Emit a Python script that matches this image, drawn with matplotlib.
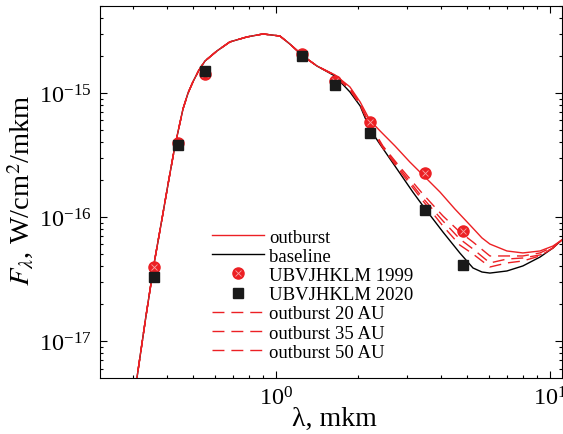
import matplotlib
matplotlib.use("Agg")
import matplotlib.pyplot as plt
from matplotlib.ticker import LogLocator, NullFormatter

plt.rcParams['font.family'] = ['Liberation Serif', 'DejaVu Serif']
plt.rcParams['mathtext.fontset'] = 'stix'

RED = '#ec2024'

# Photometry (wavelength in mkm, flux in W/cm^2/mkm)
bands = ['U', 'B', 'V', 'J', 'H', 'K', 'L', 'M']
band_wl = [0.36, 0.44, 0.55, 1.25, 1.65, 2.2, 3.5, 4.8]
flux_1999 = [3.95e-17, 3.95e-16, 1.42e-15, 2.07e-15, 1.25e-15, 5.83e-16, 2.26e-16, 7.7e-17]
flux_2020 = [3.28e-17, 3.80e-16, 1.51e-15, 2.00e-15, 1.16e-15, 4.75e-16, 1.14e-16, 4.1e-17]

# Model SEDs: common stellar part shortward of 1.6 mkm
wl_common = [0.30, 0.311, 0.335, 0.359, 0.385, 0.407, 0.428, 0.458, 0.478, 0.498,
             0.523, 0.551, 0.609, 0.679, 0.784, 0.897, 1.034, 1.125, 1.255, 1.412]
f_common = [2.88e-18, 5.03e-18, 1.55e-17, 4.18e-17, 1.00e-16, 2.02e-16, 3.74e-16,
            7.43e-16, 1.00e-15, 1.23e-15, 1.52e-15, 1.81e-15, 2.18e-15, 2.58e-15,
            2.83e-15, 2.99e-15, 2.88e-15, 2.48e-15, 1.99e-15, 1.65e-15]

wl_base = [1.642, 1.862, 2.03, 2.20, 2.40, 2.61, 3.16, 3.44, 4.07, 4.69, 5.24,
           5.65, 6.04, 6.97, 7.97, 9.20, 10.26, 11.06]
f_base = [1.37e-15, 1.02e-15, 7.86e-16, 5.13e-16, 3.85e-16, 2.94e-16, 1.59e-16,
          1.23e-16, 7.57e-17, 5.13e-17, 3.88e-17, 3.60e-17, 3.53e-17, 3.67e-17,
          4.03e-17, 4.75e-17, 5.62e-17, 6.53e-17]

wl_out = [1.642, 1.862, 2.03, 2.20, 2.40, 2.72, 3.08, 3.50, 3.97, 4.50, 5.11,
          5.65, 6.04, 6.97, 7.97, 9.20, 10.26, 11.06]
f_out = [1.40e-15, 1.12e-15, 8.46e-16, 6.05e-16, 4.94e-16, 3.74e-16, 2.78e-16,
         2.10e-16, 1.59e-16, 1.16e-16, 8.61e-17, 6.78e-17, 6.05e-17, 5.32e-17,
         5.13e-17, 5.32e-17, 5.83e-17, 6.53e-17]

wl_dust = [1.642, 1.862, 2.03, 2.20, 2.457, 2.835, 3.44, 4.07, 4.69, 5.24, 6.04,
           6.97, 7.97, 9.20, 10.26, 11.06]
f_20au = [1.39e-15, 1.10e-15, 8.15e-16, 5.62e-16, 3.74e-16, 2.53e-16, 1.53e-16,
          1.02e-16, 7.57e-17, 6.28e-17, 4.85e-17, 4.85e-17, 4.85e-17, 5.13e-17,
          5.73e-17, 6.53e-17]
f_35au = [1.39e-15, 1.08e-15, 8.15e-16, 5.52e-16, 3.67e-16, 2.44e-16, 1.42e-16,
          9.29e-17, 6.65e-17, 5.52e-17, 4.26e-17, 4.58e-17, 4.67e-17, 4.94e-17,
          5.62e-17, 6.53e-17]
f_50au = [1.38e-15, 1.06e-15, 8.00e-16, 5.42e-16, 3.60e-16, 2.35e-16, 1.35e-16,
          8.46e-17, 5.94e-17, 5.03e-17, 3.95e-17, 4.26e-17, 4.42e-17, 4.85e-17,
          5.62e-17, 6.53e-17]

fig = plt.figure(figsize=(5.63, 4.35), dpi=100)
ax = fig.add_axes([0.1776, 0.1287, 0.8204, 0.8553])

lw = 1.0
dash = (8.6, 5.0)

h_base, = ax.plot(wl_common + wl_base, f_common + f_base, color='black', lw=lw, zorder=2)
h_dash = []
for f in (f_20au, f_35au, f_50au):
    h, = ax.plot(wl_common + wl_dust, f_common + f, color=RED, lw=lw,
                 dashes=dash, zorder=3)
    h_dash.append(h)
h_out, = ax.plot(wl_common + wl_out, f_common + f_out, color=RED, lw=lw, zorder=4)

h_99, = ax.plot(band_wl, flux_1999, 'o', color=RED, ms=8, mec=RED, zorder=5)
h_99x, = ax.plot(band_wl, flux_1999, 'x', color='#f7a7a7', ms=4, mew=0.6, zorder=6)
h_20, = ax.plot(band_wl, flux_2020, 's', color='#1a1a1a', ms=6.8, zorder=7)

ax.set_xscale('log')
ax.set_yscale('log')
ax.set_xlim(0.228, 11.06)
ax.set_ylim(5.03e-18, 5.03e-15)

ax.xaxis.set_major_locator(LogLocator(base=10, numticks=10))
ax.xaxis.set_minor_locator(LogLocator(base=10, subs=range(2, 10), numticks=20))
ax.yaxis.set_minor_locator(LogLocator(base=10, subs=range(2, 10), numticks=20))
ax.xaxis.set_minor_formatter(NullFormatter())
ax.yaxis.set_minor_formatter(NullFormatter())

ax.tick_params(which='both', direction='in', top=True, right=True, width=0.8,
               labelsize=17.5, colors='black')
ax.tick_params(which='major', length=5, pad=6)
ax.tick_params(which='minor', length=2.5)
for s in ax.spines.values():
    s.set_linewidth(0.8)

ax.set_xlabel('λ, mkm', fontsize=20)
ax.set_ylabel(r'$F_{\lambda}$, W/cm$^2$/mkm', fontsize=20.5)
ax.xaxis.set_label_coords(0.508, -0.075)
ax.yaxis.set_label_coords(-0.139, 0.508)

leg = ax.legend([h_out, h_base, (h_99, h_99x), h_20] + h_dash,
                ['outburst', 'baseline', 'UBVJHKLM 1999', 'UBVJHKLM 2020',
                 'outburst 20 AU', 'outburst 35 AU', 'outburst 50 AU'],
                loc='upper left', bbox_to_anchor=(0.242, 0.402), frameon=False,
                fontsize=13.5, handlelength=2.8, handletextpad=0.25,
                labelspacing=0.11, borderpad=0, borderaxespad=0)

fig.savefig('out.png', dpi=100)
